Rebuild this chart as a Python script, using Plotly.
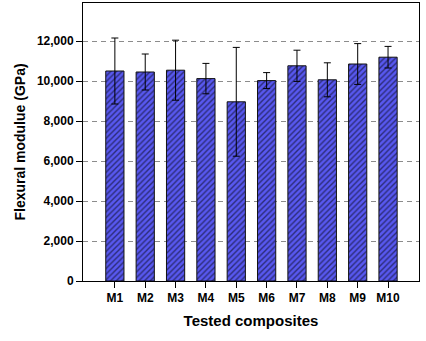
import plotly.graph_objects as go

categories = ["M1", "M2", "M3", "M4", "M5", "M6", "M7", "M8", "M9", "M10"]
modulus = [10500, 10450, 10540, 10120, 8960, 10020, 10760, 10060, 10850, 11190]
err = [1650, 900, 1500, 760, 2720, 400, 780, 850, 1020, 540]
yticks = [0, 2000, 4000, 6000, 8000, 10000, 12000]
ytick_text = ["0", "2,000", "4,000", "6,000", "8,000", "10,000", "12,000"]

xpos = list(range(len(categories)))

fig = go.Figure()
fig.add_trace(go.Bar(
    x=xpos, y=modulus, width=0.6,
    marker=dict(color="#5858F0", line=dict(color="#111111", width=1),
                pattern=dict(shape="/", fgcolor="#000000", bgcolor="#5858F0", size=4, solidity=0.35)),
    error_y=dict(type="data", array=err, visible=True, color="#000000", thickness=1, width=3.5),
))

fig.update_layout(
    width=426, height=341,
    margin=dict(l=83, r=7, t=3, b=60, autoexpand=False),
    plot_bgcolor="white", paper_bgcolor="white",
    showlegend=False,
    font=dict(family="Liberation Sans, Arial", color="#000000"),
)
fig.update_xaxes(
    range=[-1.05, 10.02], tickvals=xpos, ticktext=["<b>%s</b>" % c for c in categories],
    ticks="outside", ticklen=6, tickcolor="#000", showline=True, linecolor="#000", linewidth=1, mirror=True,
    showgrid=False, tickfont=dict(size=12), automargin=False,
    title=dict(text="<b>Tested composites</b>", font=dict(size=15), standoff=11),
)
fig.update_yaxes(
    range=[0, 13900], tickvals=yticks, ticktext=["<b>%s</b>" % t for t in ytick_text],
    ticks="outside", ticklen=6, tickcolor="#000", showline=True, linecolor="#000", linewidth=1, mirror=True,
    showgrid=True, gridcolor="#8c8c8c", griddash="5px,4px", gridwidth=1, zeroline=False,
    tickfont=dict(size=12), automargin=False,
    title=dict(text="<b>Flexural modulue (GPa)</b>", font=dict(size=14), standoff=7),
)

fig.write_html("out.html", config={"displayModeBar": False},
               post_script="document.body.style.margin='0';document.body.style.padding='0';")
